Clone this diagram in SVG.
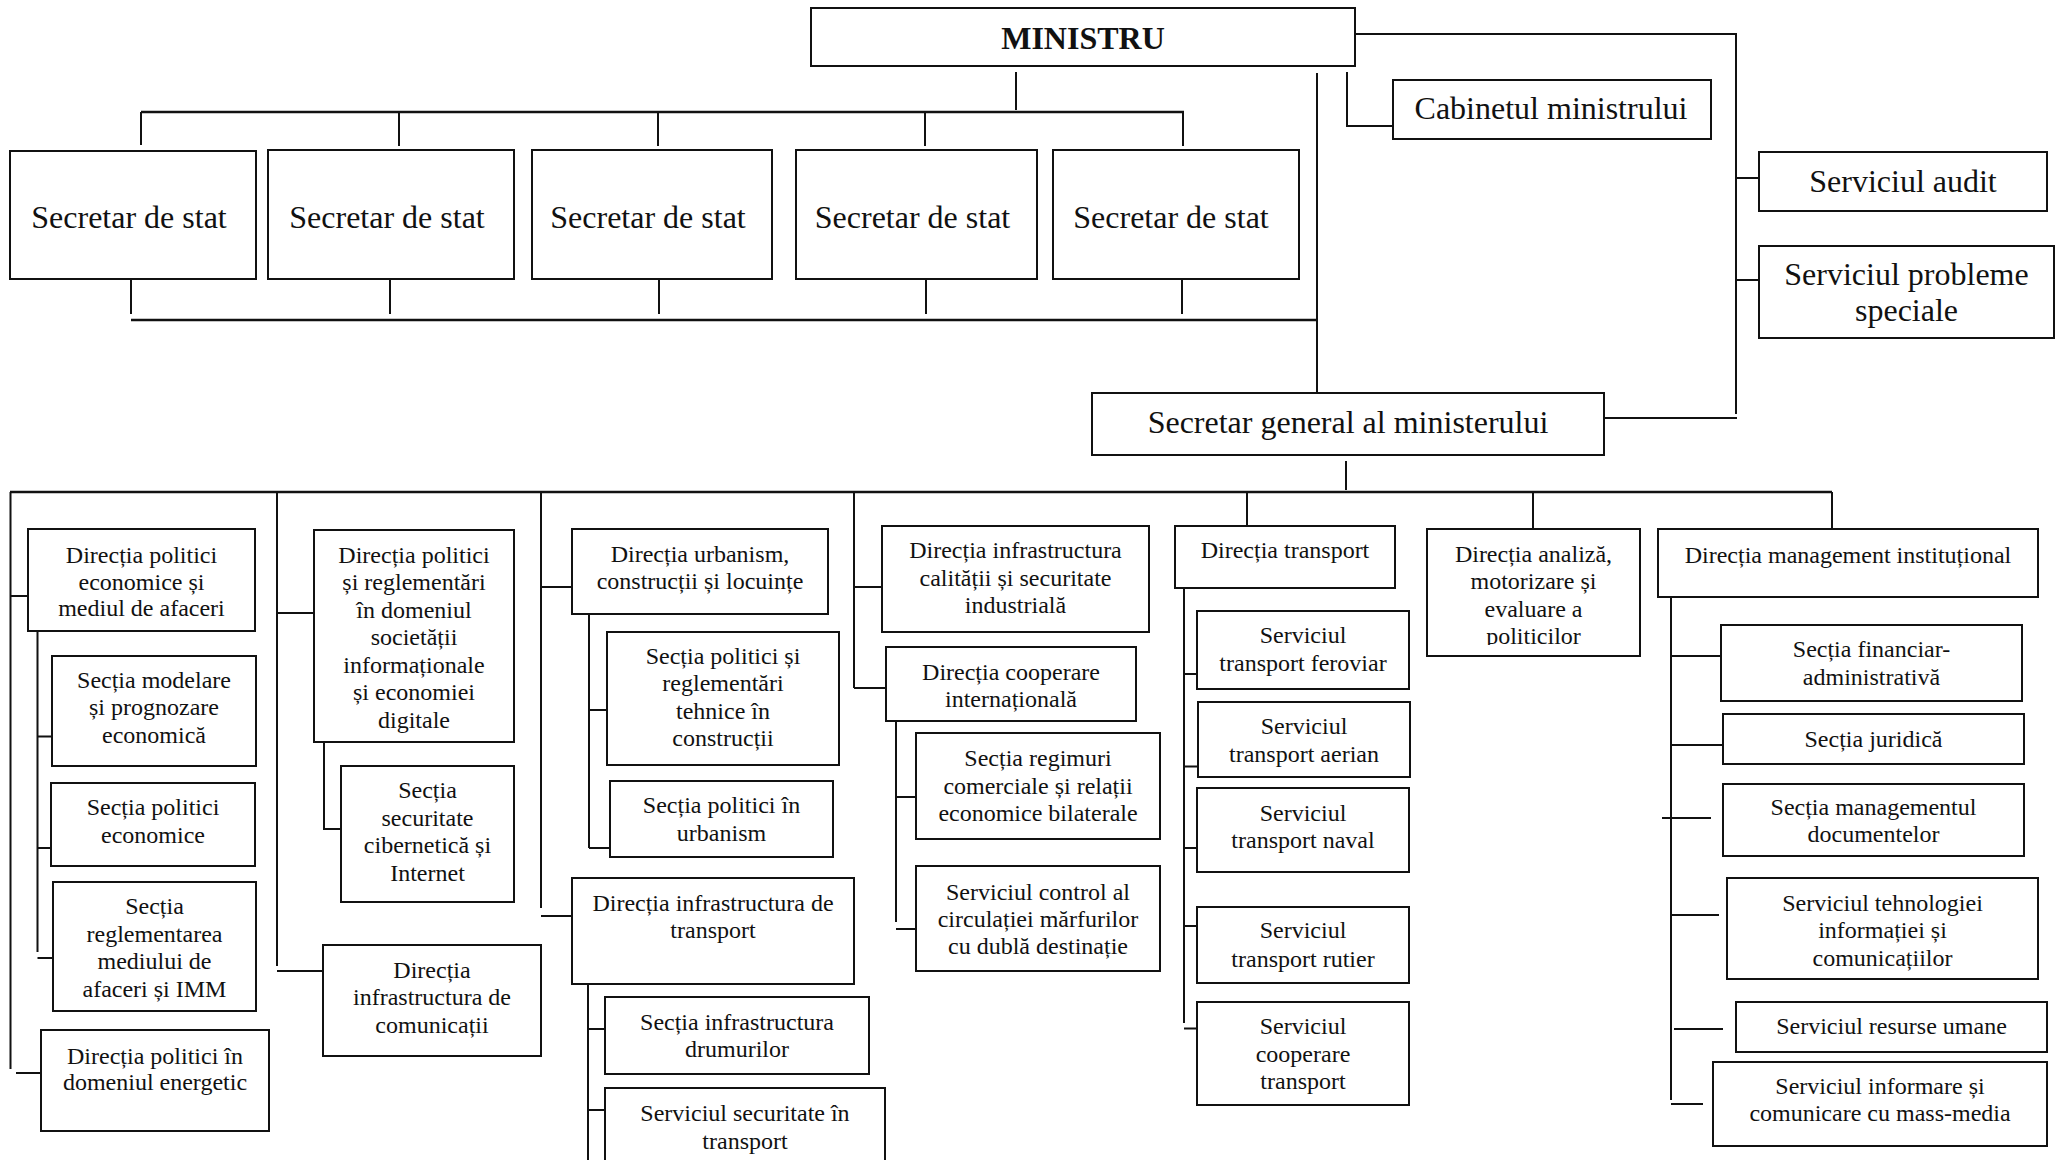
<svg xmlns="http://www.w3.org/2000/svg" width="2060" height="1160" viewBox="0 0 2060 1160">
<style>
rect.b{fill:#fff;stroke:#111;stroke-width:2}
#connectors path{fill:none;stroke:#111;stroke-width:2}
#connectors path.bus{stroke-width:2.6}
text{font-family:"Liberation Serif","Times New Roman",serif;fill:#111;text-anchor:middle}
.t32{font-size:32px}
.t24{font-size:24px}
.bold{font-weight:bold}
</style>
<defs>
<clipPath id="clipAnaliza"><rect x="1427" y="529" width="213" height="116"/></clipPath>
</defs>
<rect x="0" y="0" width="2060" height="1160" fill="#fff"/>
<g id="connectors">
<!-- top section -->
<path d="M1016 72V110"/>
<path class="bus" d="M141 112H1184"/>
<path d="M141 112V145M399 112V146M658 112V146M925 112V146M1183 112V146"/>
<path d="M131 279V314M390 273V314M659 273V314M926 273V314M1182 273V314"/>
<path class="bus" d="M131 320H1317"/>
<path d="M1317 73V398"/>
<path d="M1347 72V126H1393"/>
<path d="M1355 34H1736V414"/>
<path d="M1604 418H1737"/>
<path d="M1736 178H1771"/>
<path d="M1736 280H1769"/>
<!-- bottom section -->
<path d="M1346 461V490"/>
<path class="bus" d="M10 492H1832"/>
<path d="M10.5 492V1069M277 492V966M541 492V908M854 492V688M1247 492V526M1533 492V529M1832 492V529"/>
<!-- col 1 -->
<path d="M10.5 596H28M37.5 631V952M37.5 736.5H52M37.5 848H51M37.5 958H53M16 1073H41"/>
<!-- col 2 -->
<path d="M277 613H314M324 742V829H341M277 971H323"/>
<!-- col 3 -->
<path d="M541 587H572M589 614V848M589 710H607M589 848H610M541 916H572M588 984V1160M588 1029H605M588 1110H605"/>
<!-- col 4 -->
<path d="M854 587H882M854 688H886M896 721V922M896 797H916M896 929H916"/>
<!-- col 5 -->
<path d="M1184 588V1023M1184 674H1197M1184 766.5H1198M1184 848H1197M1184 926H1197M1184 1028.6H1197"/>
<!-- col 7 -->
<path d="M1671 597V1100M1671 656H1721M1671 745H1723M1662 818H1711M1671 915H1719M1674 1029H1723M1671 1104H1703"/>
</g>

<g id="ministru"><rect class="b" x="811" y="8" width="544" height="58"/><text class="t32 bold" x="1083" y="49">MINISTRU</text></g>
<g id="secretar-stat-1"><rect class="b" x="10" y="151" width="246" height="128"/><text class="t32" x="129" y="228">Secretar de stat</text></g>
<g id="secretar-stat-2"><rect class="b" x="268" y="150" width="246" height="129"/><text class="t32" x="387" y="228">Secretar de stat</text></g>
<g id="secretar-stat-3"><rect class="b" x="532" y="150" width="240" height="129"/><text class="t32" x="648" y="228">Secretar de stat</text></g>
<g id="secretar-stat-4"><rect class="b" x="796" y="150" width="241" height="129"/><text class="t32" x="912.5" y="228">Secretar de stat</text></g>
<g id="secretar-stat-5"><rect class="b" x="1053" y="150" width="246" height="129"/><text class="t32" x="1171" y="228">Secretar de stat</text></g>
<g id="cabinet"><rect class="b" x="1393" y="80" width="318" height="59"/><text class="t32" x="1551" y="119">Cabinetul ministrului</text></g>
<g id="audit"><rect class="b" x="1759" y="152" width="288" height="59"/><text class="t32" x="1903" y="192">Serviciul audit</text></g>
<g id="probleme"><rect class="b" x="1759" y="246" width="295" height="92"/><text class="t32" x="1906.5"><tspan x="1906.5" y="285">Serviciul probleme</tspan><tspan x="1906.5" y="321">speciale</tspan></text></g>
<g id="secretar-general"><rect class="b" x="1092" y="393" width="512" height="62"/><text class="t32" x="1348" y="433">Secretar general al ministerului</text></g>

<g id="dir-politici-economice"><rect class="b" x="28" y="529" width="227" height="102"/><text class="t24"><tspan x="141.5" y="562.5">Direcția politici</tspan><tspan x="141.5" y="589.5">economice și</tspan><tspan x="141.5" y="616">mediul de afaceri</tspan></text></g>
<g id="sectia-modelare"><rect class="b" x="52" y="656" width="204" height="110"/><text class="t24"><tspan x="154" y="688">Secția modelare</tspan><tspan x="154" y="715">și prognozare</tspan><tspan x="154" y="743">economică</tspan></text></g>
<g id="sectia-politici-economice"><rect class="b" x="51" y="783" width="204" height="83"/><text class="t24"><tspan x="153" y="815">Secția politici</tspan><tspan x="153" y="843">economice</tspan></text></g>
<g id="sectia-reglementarea"><rect class="b" x="53" y="882" width="203" height="129"/><text class="t24"><tspan x="154.5" y="914">Secția</tspan><tspan x="154.5" y="941.5">reglementarea</tspan><tspan x="154.5" y="969">mediului de</tspan><tspan x="154.5" y="996.5">afaceri și IMM</tspan></text></g>
<g id="dir-energetic"><rect class="b" x="41" y="1030" width="228" height="101"/><text class="t24"><tspan x="155" y="1063.5">Direcția politici în</tspan><tspan x="155" y="1090">domeniul energetic</tspan></text></g>

<g id="dir-societatii"><rect class="b" x="314" y="530" width="200" height="212"/><text class="t24"><tspan x="414" y="562.5">Direcția politici</tspan><tspan x="414" y="590">și reglementări</tspan><tspan x="414" y="617.5">în domeniul</tspan><tspan x="414" y="645">societății</tspan><tspan x="414" y="672.5">informaționale</tspan><tspan x="414" y="700">și economiei</tspan><tspan x="414" y="727.5">digitale</tspan></text></g>
<g id="sectia-securitate-cibernetica"><rect class="b" x="341" y="766" width="173" height="136"/><text class="t24"><tspan x="427.5" y="798">Secția</tspan><tspan x="427.5" y="826">securitate</tspan><tspan x="427.5" y="853">cibernetică și</tspan><tspan x="427.5" y="880.5">Internet</tspan></text></g>
<g id="dir-comunicatii"><rect class="b" x="323" y="945" width="218" height="111"/><text class="t24"><tspan x="432" y="977.5">Direcția</tspan><tspan x="432" y="1005">infrastructura de</tspan><tspan x="432" y="1032.5">comunicații</tspan></text></g>

<g id="dir-urbanism"><rect class="b" x="572" y="529" width="256" height="85"/><text class="t24"><tspan x="700" y="561.5">Direcția urbanism,</tspan><tspan x="700" y="589">construcții și locuințe</tspan></text></g>
<g id="sectia-tehnice"><rect class="b" x="607" y="632" width="232" height="133"/><text class="t24"><tspan x="723" y="664">Secția politici și</tspan><tspan x="723" y="691">reglementări</tspan><tspan x="723" y="719">tehnice în</tspan><tspan x="723" y="746">construcții</tspan></text></g>
<g id="sectia-urbanism"><rect class="b" x="610" y="781" width="223" height="76"/><text class="t24"><tspan x="721.5" y="812.5">Secția politici în</tspan><tspan x="721.5" y="841">urbanism</tspan></text></g>
<g id="dir-infra-transport"><rect class="b" x="572" y="878" width="282" height="106"/><text class="t24"><tspan x="713" y="910.5">Direcția infrastructura de</tspan><tspan x="713" y="938">transport</tspan></text></g>
<g id="sectia-drumuri"><rect class="b" x="605" y="997" width="264" height="77"/><text class="t24"><tspan x="737" y="1029.5">Secția infrastructura</tspan><tspan x="737" y="1057">drumurilor</tspan></text></g>
<g id="serviciul-securitate-transport"><rect class="b" x="605" y="1088" width="280" height="80"/><text class="t24"><tspan x="745" y="1120.5">Serviciul securitate în</tspan><tspan x="745" y="1148.5">transport</tspan></text></g>

<g id="dir-calitate"><rect class="b" x="882" y="526" width="267" height="106"/><text class="t24"><tspan x="1015.5" y="558">Direcția infrastructura</tspan><tspan x="1015.5" y="586">calității și securitate</tspan><tspan x="1015.5" y="613">industrială</tspan></text></g>
<g id="dir-cooperare"><rect class="b" x="886" y="647" width="250" height="74"/><text class="t24"><tspan x="1011" y="680">Direcția cooperare</tspan><tspan x="1011" y="707">internațională</tspan></text></g>
<g id="sectia-regimuri"><rect class="b" x="916" y="733" width="244" height="106"/><text class="t24"><tspan x="1038" y="766">Secția regimuri</tspan><tspan x="1038" y="794">comerciale și relații</tspan><tspan x="1038" y="821">economice bilaterale</tspan></text></g>
<g id="serviciul-control"><rect class="b" x="916" y="866" width="244" height="105"/><text class="t24"><tspan x="1038" y="899.5">Serviciul control al</tspan><tspan x="1038" y="927">circulației mărfurilor</tspan><tspan x="1038" y="954">cu dublă destinație</tspan></text></g>

<g id="dir-transport"><rect class="b" x="1175" y="526" width="220" height="62"/><text class="t24" x="1285" y="558">Direcția transport</text></g>
<g id="serviciul-feroviar"><rect class="b" x="1197" y="611" width="212" height="78"/><text class="t24"><tspan x="1303" y="643">Serviciul</tspan><tspan x="1303" y="671">transport feroviar</tspan></text></g>
<g id="serviciul-aerian"><rect class="b" x="1198" y="702" width="212" height="75"/><text class="t24"><tspan x="1304" y="734">Serviciul</tspan><tspan x="1304" y="762">transport aerian</tspan></text></g>
<g id="serviciul-naval"><rect class="b" x="1197" y="788" width="212" height="84"/><text class="t24"><tspan x="1303" y="821">Serviciul</tspan><tspan x="1303" y="848">transport naval</tspan></text></g>
<g id="serviciul-rutier"><rect class="b" x="1197" y="907" width="212" height="76"/><text class="t24"><tspan x="1303" y="938">Serviciul</tspan><tspan x="1303" y="966.5">transport rutier</tspan></text></g>
<g id="serviciul-cooperare-transport"><rect class="b" x="1197" y="1002" width="212" height="103"/><text class="t24"><tspan x="1303" y="1034">Serviciul</tspan><tspan x="1303" y="1061.5">cooperare</tspan><tspan x="1303" y="1089">transport</tspan></text></g>

<g id="dir-analiza"><rect class="b" x="1427" y="529" width="213" height="127"/><text class="t24" clip-path="url(#clipAnaliza)"><tspan x="1533.5" y="561.5">Direcția analiză,</tspan><tspan x="1533.5" y="589">motorizare și</tspan><tspan x="1533.5" y="616.5">evaluare a</tspan><tspan x="1533.5" y="644">politicilor</tspan></text></g>

<g id="dir-management"><rect class="b" x="1658" y="529" width="380" height="68"/><text class="t24" x="1848" y="562.5">Direcția management instituțional</text></g>
<g id="sectia-financiar"><rect class="b" x="1721" y="625" width="301" height="76"/><text class="t24"><tspan x="1871.5" y="657">Secția financiar-</tspan><tspan x="1871.5" y="685">administrativă</tspan></text></g>
<g id="sectia-juridica"><rect class="b" x="1723" y="714" width="301" height="50"/><text class="t24" x="1873.5" y="746.5">Secția juridică</text></g>
<g id="sectia-documente"><rect class="b" x="1723" y="784" width="301" height="72"/><text class="t24"><tspan x="1873.5" y="814.5">Secția managementul</tspan><tspan x="1873.5" y="842">documentelor</tspan></text></g>
<g id="serviciul-tehnologiei"><rect class="b" x="1727" y="878" width="311" height="101"/><text class="t24"><tspan x="1882.5" y="910.5">Serviciul tehnologiei</tspan><tspan x="1882.5" y="938">informației și</tspan><tspan x="1882.5" y="965.5">comunicațiilor</tspan></text></g>
<g id="serviciul-resurse"><rect class="b" x="1736" y="1002" width="311" height="50"/><text class="t24" x="1891.5" y="1034">Serviciul resurse umane</text></g>
<g id="serviciul-informare"><rect class="b" x="1713" y="1062" width="334" height="84"/><text class="t24"><tspan x="1880" y="1094">Serviciul informare și</tspan><tspan x="1880" y="1121">comunicare cu mass-media</tspan></text></g>
</svg>
